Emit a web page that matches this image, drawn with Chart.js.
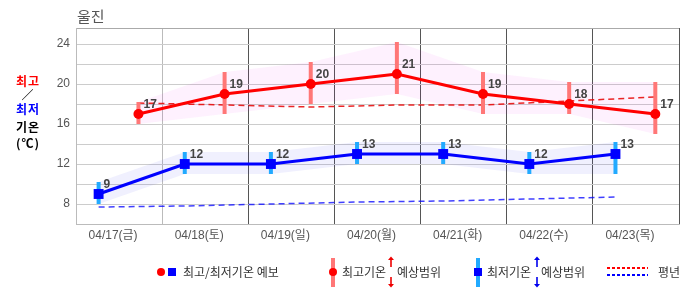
<!DOCTYPE html>
<html>
<head>
<meta charset="utf-8">
<script src="https://cdn.jsdelivr.net/npm/chart.js@4.4.1/dist/chart.umd.min.js"></script>
<style>
  body { margin: 0; background: #fff; }
  #wrap { position: relative; width: 686px; height: 295px; overflow: hidden; font-family: "Noto Sans CJK KR", sans-serif; }
  #chart { position: absolute; left: 0; top: 0; }
  .t { position: absolute; white-space: nowrap; }
  .title { left: 77px; top: 6px; font-size: 15px; line-height: 20px; color: #555; }
  .yl { left: 12px; width: 32px; text-align: center; font-size: 12px; font-weight: bold; line-height: 14px; letter-spacing: 1px; }
  .lg { top: 265px; font-size: 12px; line-height: 14px; color: #333; }
  .ic { position: absolute; }
</style>
</head>
<body>
<div id="wrap">
  <canvas id="chart" width="686" height="295"></canvas>

  <div class="t title">울진</div>

  <div class="t yl" style="top:74px;color:#f00;">최고</div>
  <div class="t yl" style="top:88px;color:#000;font-weight:normal;">／</div>
  <div class="t yl" style="top:102px;color:#00f;">최저</div>
  <div class="t yl" style="top:120px;color:#000;">기온</div>
  <div class="t yl" style="top:136px;color:#000;">(℃)</div>

  <!-- 범례 -->
  <div class="ic" style="left:157px;top:268px;width:8px;height:8px;border-radius:50%;background:#f00;"></div>
  <div class="ic" style="left:168px;top:268px;width:8px;height:8px;background:#00f;"></div>
  <div class="t lg" style="left:183px;">최고/최저기온 예보</div>

  <div class="ic" style="left:331px;top:258px;width:4px;height:29px;background:#ff7777;"></div>
  <div class="ic" style="left:329px;top:268px;width:8px;height:8px;border-radius:50%;background:#f00;"></div>
  <div class="t lg" style="left:342px;">최고기온</div>
  <svg class="ic" style="left:387px;top:256px;" width="8" height="32">
    <line x1="4" y1="3" x2="4" y2="11" stroke="#e00" stroke-width="1.6"/>
    <polygon points="1,4 4,0.5 7,4" fill="#e00"/>
    <line x1="4" y1="21" x2="4" y2="29" stroke="#e00" stroke-width="1.6"/>
    <polygon points="1,28 4,31.5 7,28" fill="#e00"/>
  </svg>
  <div class="t lg" style="left:397px;">예상범위</div>

  <div class="ic" style="left:476px;top:258px;width:4px;height:29px;background:#22aaff;"></div>
  <div class="ic" style="left:474px;top:268px;width:8px;height:8px;background:#00f;"></div>
  <div class="t lg" style="left:487px;">최저기온</div>
  <svg class="ic" style="left:533px;top:256px;" width="8" height="32">
    <line x1="4" y1="3" x2="4" y2="11" stroke="#00e" stroke-width="1.6"/>
    <polygon points="1,4 4,0.5 7,4" fill="#00e"/>
    <line x1="4" y1="21" x2="4" y2="29" stroke="#00e" stroke-width="1.6"/>
    <polygon points="1,28 4,31.5 7,28" fill="#00e"/>
  </svg>
  <div class="t lg" style="left:541px;">예상범위</div>

  <svg class="ic" style="left:606px;top:264px;" width="44" height="14">
    <line x1="1" y1="4" x2="42" y2="4" stroke="#f00" stroke-width="2" stroke-dasharray="3,2"/>
    <line x1="1" y1="11" x2="42" y2="11" stroke="#00f" stroke-width="2" stroke-dasharray="3,2"/>
  </svg>
  <div class="t lg" style="left:658px;">평년</div>
</div>

<script>
// 날짜 라벨
const dayLabels = ['04/17(금)', '04/18(토)', '04/19(일)', '04/20(월)', '04/21(화)', '04/22(수)', '04/23(목)'];

// 최고/최저기온 예보
const maxTemp = [17, 19, 20, 21, 19, 18, 17];
const minTemp = [9, 12, 12, 13, 13, 12, 13];

// 예상범위
const maxRangeLow  = [16, 17, 18, 19, 17, 17, 15];
const maxRangeHigh = [18.2, 21.2, 22.2, 24.2, 21.2, 20.2, 20.2];
const minRangeLow  = [8, 11, 11, 12, 12, 11, 11];
const minRangeHigh = [10.2, 13.2, 13.2, 14.2, 14.2, 13.2, 14.2];

// 평년
const maxNormal = [18.1, 17.9, 17.7, 17.9, 17.9, 18.3, 18.7];
const minNormal = [7.7, 7.8, 8.0, 8.2, 8.3, 8.5, 8.7];

// 시각 (하루 중 시간, 최고는 오후 / 최저는 아침)
const maxHour = 17.4;
const minHour = 6.3;

// y축
const yMin = 6;
const yMax = 25.6;
const yLabelTicks = [8, 12, 16, 20, 24];

function toPoints(values, hour) {
  return values.map(function(v, i) { return { x: i + hour / 24, y: v }; });
}
function toBars(lo, hi, hour) {
  return lo.map(function(v, i) { return { x: i + hour / 24, y: [v, hi[i]] }; });
}

// 숫자 라벨
const valueLabels = {
  id: 'valueLabels',
  afterDatasetsDraw(chart) {
    const ctx = chart.ctx;
    ctx.save();
    ctx.font = 'bold 12px "Liberation Sans", sans-serif';
    ctx.fillStyle = '#444';
    ctx.textAlign = 'left';
    ctx.textBaseline = 'middle';
    [0, 1].forEach(function(di) {
      const meta = chart.getDatasetMeta(di);
      meta.data.forEach(function(pt, i) {
        ctx.fillText(chart.data.datasets[di].data[i].y, pt.x + 5, pt.y - 9);
      });
    });
    ctx.restore();
  }
};

Chart.defaults.font.family = '"Liberation Sans", "Noto Sans CJK KR", sans-serif';

const ctx = document.getElementById('chart');
var chart = new Chart(ctx, {
  type: 'line',
  data: {
    labels: dayLabels,
    datasets: [
      {
        label: '최고기온',
        data: toPoints(maxTemp, maxHour),
        xAxisID: 'xd',
        borderColor: '#ff0000',
        backgroundColor: '#ff0000',
        borderWidth: 3,
        pointRadius: 5,
        pointBorderWidth: 0,
        order: 0
      },
      {
        label: '최저기온',
        data: toPoints(minTemp, minHour),
        xAxisID: 'xd',
        borderColor: '#0000ff',
        backgroundColor: '#0000ff',
        borderWidth: 3,
        pointStyle: 'rect',
        pointRadius: 7,
        pointBorderWidth: 0,
        order: 0
      },
      {
        type: 'bar',
        label: '최고기온 예상범위',
        data: toBars(maxRangeLow, maxRangeHigh, maxHour),
        xAxisID: 'xd',
        backgroundColor: '#ff7777',
        grouped: false,
        maxBarThickness: 4,
        order: 1
      },
      {
        type: 'bar',
        label: '최저기온 예상범위',
        data: toBars(minRangeLow, minRangeHigh, minHour),
        xAxisID: 'xd',
        backgroundColor: '#22aaff',
        grouped: false,
        maxBarThickness: 4,
        order: 1
      },
      {
        data: toPoints(maxRangeHigh, maxHour),
        xAxisID: 'xd',
        borderColor: 'transparent',
        borderWidth: 0,
        pointRadius: 0,
        fill: false,
        order: 3
      },
      {
        data: toPoints(maxRangeLow, maxHour),
        xAxisID: 'xd',
        borderColor: 'transparent',
        borderWidth: 0,
        pointRadius: 0,
        fill: '-1',
        backgroundColor: 'rgba(240, 0, 240, 0.055)',
        order: 3
      },
      {
        data: toPoints(minRangeHigh, minHour),
        xAxisID: 'xd',
        borderColor: 'transparent',
        borderWidth: 0,
        pointRadius: 0,
        fill: false,
        order: 3
      },
      {
        data: toPoints(minRangeLow, minHour),
        xAxisID: 'xd',
        borderColor: 'transparent',
        borderWidth: 0,
        pointRadius: 0,
        fill: '-1',
        backgroundColor: 'rgba(40, 40, 240, 0.07)',
        order: 3
      },
      {
        label: '평년 최고',
        data: toPoints(maxNormal, maxHour),
        xAxisID: 'xd',
        borderColor: 'rgba(230, 0, 0, 0.85)',
        borderWidth: 1.5,
        borderDash: [6, 4],
        pointRadius: 0,
        order: 2
      },
      {
        label: '평년 최저',
        data: toPoints(minNormal, minHour),
        xAxisID: 'xd',
        borderColor: 'rgba(0, 0, 255, 0.75)',
        borderWidth: 1.5,
        borderDash: [6, 4],
        pointRadius: 0,
        order: 2
      }
    ]
  },
  options: {
    responsive: false,
    devicePixelRatio: 1,
    animation: false,
    layout: {
      padding: { left: 0, right: 1, top: 28, bottom: 49 }
    },
    plugins: {
      legend: { display: false },
      tooltip: { enabled: false },
      title: { display: false }
    },
    elements: {
      line: { tension: 0 }
    },
    scales: {
      x: {
        type: 'category',
        offset: true,
        grid: {
          offset: true,
          drawTicks: false,
          color: function(c) { return c.index <= 1 ? '#bbbbbb' : '#555555'; }
        },
        border: { color: '#bbbbbb' },
        ticks: {
          color: '#555',
          font: { size: 12 },
          padding: 4,
          labelOffset: -6,
          maxRotation: 0,
          autoSkip: false
        },
        afterFit: function(scale) { scale.height = 22; }
      },
      xd: {
        type: 'linear',
        display: false,
        min: 0,
        max: 7,
        offset: false,
        grid: { offset: false }
      },
      y: {
        type: 'linear',
        min: yMin,
        max: yMax,
        beginAtZero: false,
        afterBuildTicks: function(scale) {
          const t = [];
          for (let v = yMin; v <= 24; v += 2) t.push({ value: v });
          t.push({ value: yMax });
          scale.ticks = t;
        },
        grid: {
          drawTicks: false,
          color: function(c) { return c.tick && c.tick.value === yMax ? '#aaaaaa' : '#cccccc'; }
        },
        border: { color: '#bbbbbb' },
        ticks: {
          color: '#555',
          font: { size: 12 },
          padding: 6,
          callback: function(value) { return yLabelTicks.indexOf(value) >= 0 ? value : ''; }
        },
        afterFit: function(scale) { scale.width = 76; }
      }
    }
  },
  plugins: [valueLabels]
});
</script>
</body>
</html>
